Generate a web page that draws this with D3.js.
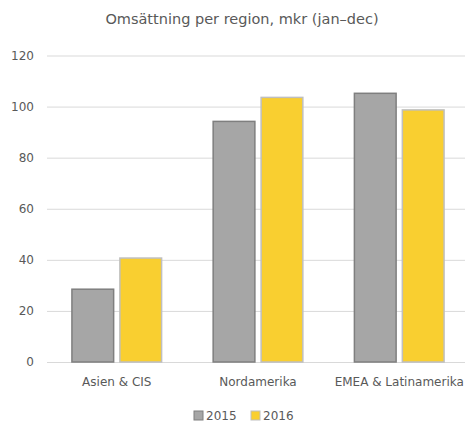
<!DOCTYPE html>
<html><head><meta charset="utf-8">
<script src="https://cdn.jsdelivr.net/npm/d3@7"></script>
<style>body{margin:0;background:#fff}svg{display:block}text{font-family:"DejaVu Sans",sans-serif;fill:#595959}</style>
</head><body><svg id="c" width="465" height="425"></svg>
<script>
const categories = ["Asien & CIS", "Nordamerika", "EMEA & Latinamerika"];
const seriesNames = ["2015", "2016"];
const values2015 = [28.5, 94.2, 105.2];
const values2016 = [40.7, 103.6, 98.7];
const yTicks = [0, 20, 40, 60, 80, 100, 120];

const fills = ["#a6a6a6", "#f9cf30"];
const strokes = ["#7f7f7f", "#bfbfbf"];
const svg = d3.select("#c");
const x0 = d3.scaleBand().domain(categories).range([46.5, 469.5]).paddingInner(0.365).paddingOuter(0.18);
const x1 = d3.scaleBand().domain(seriesNames).range([0, x0.bandwidth()]).paddingInner(0.13);
const y = d3.scaleLinear().domain([0, 120]).range([362, 55.5]);

svg.append("text").attr("x", 242).attr("y", 24).attr("text-anchor", "middle").style("font-size", "14.5px").text("Omsättning per region, mkr (jan–dec)");

const yAxis = svg.append("g").attr("transform", "translate(47,0)")
  .call(d3.axisLeft(y).tickValues(yTicks).tickSize(-418).tickPadding(12));
yAxis.select(".domain").remove();
yAxis.selectAll(".tick line").attr("stroke", "#d9d9d9").attr("stroke-width", 1);
yAxis.selectAll(".tick text").style("font-size", "12px").attr("fill", "#595959").attr("x", -13);

const data = categories.map((c, i) => ({c, v: [values2015[i], values2016[i]]}));
const g = svg.append("g");
data.forEach(d => {
  d.v.forEach((v, j) => {
    g.append("rect")
      .attr("x", x0(d.c) + x1(seriesNames[j]))
      .attr("y", y(v))
      .attr("width", x1.bandwidth())
      .attr("height", y(0) - y(v))
      .attr("fill", fills[j]).attr("stroke", strokes[j]).attr("stroke-width", 1.5);
  });
});

const xAxis = svg.append("g").attr("transform", "translate(0,362)")
  .call(d3.axisBottom(x0).tickSize(0).tickPadding(15));
xAxis.select(".domain").remove();
xAxis.selectAll(".tick text").style("font-size", "12px").attr("fill", "#595959");

const lg = svg.append("g");
const legendX = [194, 251];
seriesNames.forEach((s, j) => {
  lg.append("rect").attr("x", legendX[j]).attr("y", 411).attr("width", 9).attr("height", 9)
    .attr("fill", fills[j]).attr("stroke", strokes[j]).attr("stroke-width", 1);
  lg.append("text").attr("x", legendX[j] + 12).attr("y", 420).style("font-size", "12px").text(s);
});
</script></body></html>
